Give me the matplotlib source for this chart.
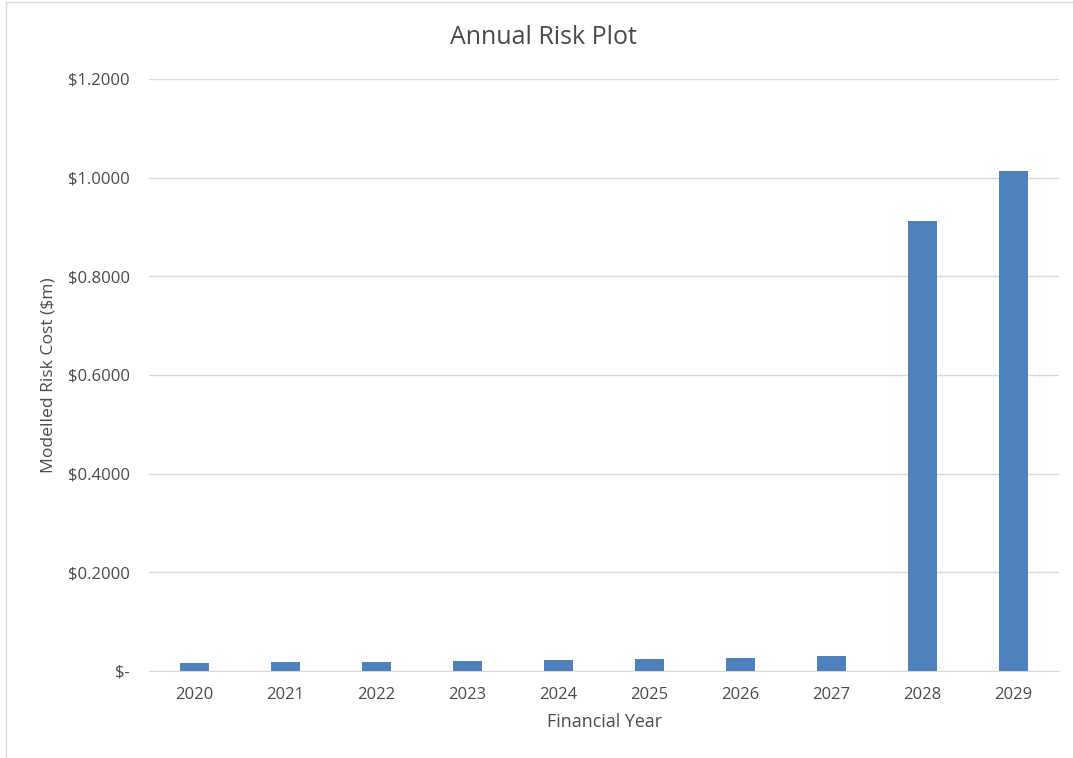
import matplotlib
matplotlib.use("Agg")
from matplotlib import pyplot as plt
from matplotlib.lines import Line2D
from matplotlib.ticker import FuncFormatter

years = ["2020", "2021", "2022", "2023", "2024", "2025", "2026", "2027", "2028", "2029"]
risk_cost = [0.0156, 0.0176, 0.019, 0.021, 0.022, 0.024, 0.027, 0.030, 0.913, 1.0136]
y_ticks = [0, 0.2, 0.4, 0.6, 0.8, 1.0, 1.2]

plt.rcParams['font.family'] = ['Open Sans', 'DejaVu Sans']
text_color = '#4a4a4a'


def dollar_fmt(v, pos):
    if abs(v) < 1e-9:
        return "$-"
    return f"${v:.4f}"


fig = plt.figure(figsize=(10.73, 7.58), dpi=100)
ax = fig.add_axes([0.1389, 0.1148, 0.987 - 0.1389, 0.8958 - 0.1148])

ax.bar(range(len(years)), risk_cost, width=0.31, color='#4F81BD', zorder=3)

ax.set_xlim(-0.5, len(years) - 0.5)
ax.set_ylim(0, 1.2)
ax.set_yticks(y_ticks)
ax.yaxis.set_major_formatter(FuncFormatter(dollar_fmt))
ax.set_xticks(range(len(years)))
ax.set_xticklabels(years)

ax.grid(axis='y', color='#D9D9D9', linewidth=1, zorder=0)
for side in ['top', 'right', 'left']:
    ax.spines[side].set_visible(False)
ax.spines['bottom'].set_color('#D9D9D9')
ax.tick_params(axis='both', length=0, labelsize=12, colors=text_color)
ax.tick_params(axis='y', pad=14)
ax.tick_params(axis='x', pad=11.5)

fig.text(543 / 1073, 1 - 38 / 758, 'Annual Risk Plot', fontsize=18, color=text_color,
         ha='center', va='center')
ax.set_xlabel('Financial Year', fontsize=12.8, color=text_color, labelpad=7)
ax.set_ylabel('Modelled Risk Cost ($m)', fontsize=12.6, color=text_color, labelpad=8)

# light frame around the chart area
fig.add_artist(Line2D([6 / 1073, 6 / 1073], [0, 1 - 2 / 758], transform=fig.transFigure, color='#D9D9D9', lw=1))
fig.add_artist(Line2D([6 / 1073, 1], [1 - 2 / 758, 1 - 2 / 758], transform=fig.transFigure, color='#D9D9D9', lw=1))

fig.savefig('out.png', dpi=100)
